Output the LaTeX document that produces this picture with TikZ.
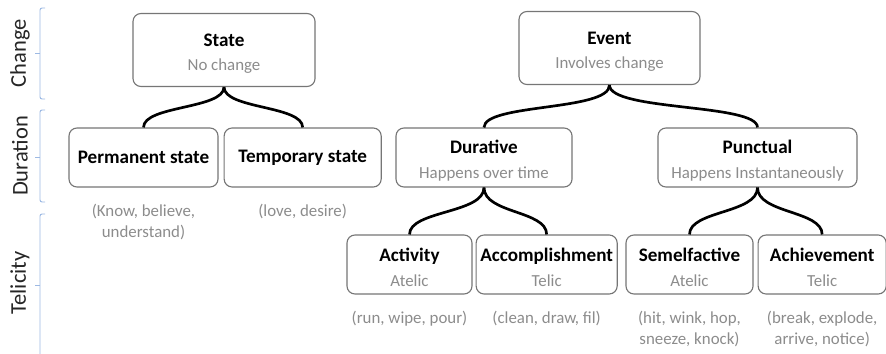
\documentclass[tikz,border=0pt]{standalone}
\usepackage{fontspec}
\setmainfont{Carlito}
\usetikzlibrary{positioning}
\definecolor{boxline}{HTML}{767676}
\definecolor{subgray}{HTML}{8C8C8C}
\definecolor{axisblue}{HTML}{9DB9E3}
\newcommand{\cattext}[2]{\rule{0pt}{14pt}\textbf{#1}\\[1.5pt]{\fontsize{12}{14}\selectfont\color{subgray}#2}}

\begin{document}
\begin{tikzpicture}[x=0.025cm,y=-0.025cm,
  cat/.style={rounded corners=2mm,draw=boxline,line width=.8pt,fill=white,
    align=center,inner sep=1pt,minimum height=14.75mm,font=\fontsize{13.6}{16}\selectfont},
  topcat/.style={cat,minimum height=18.25mm},
  note/.style={inner sep=0pt,align=center,text=subgray,font=\fontsize{12}{15}\selectfont},
  axislabel/.style={rotate=90,inner sep=0pt,text=black!85,font=\fontsize{16}{19}\selectfont},
  bracket/.style={draw=axisblue,line width=.7pt,rounded corners=1.5pt},
  fork/.style={draw=black,line width=1.9pt}
]
\useasboundingbox (0,0) rectangle (886,354);

% level labels on the left
\node[axislabel] (change) at (20,53) {Change};
\node[axislabel] (duration) at (20,156) {Duration};
\node[axislabel] (telicity) at (20,283) {Telicity};
\draw[bracket] (45,8) -- (40,8) -- (40,99) -- (45,99);
\draw[bracket] (40,53) -- (35,53);
\draw[bracket] (45,110) -- (40,110) -- (40,202) -- (45,202);
\draw[bracket] (40,157) -- (35,157);
\draw[bracket] (45,214) -- (40,214) -- (40,358);
\draw[bracket] (40,285) -- (35,285);

% change
\node[topcat,minimum width=45.5mm] (state) at (224,50) {\cattext{State}{No change}};
\node[topcat,minimum width=45.25mm] (event) at (609.5,48) {\cattext{Event}{Involves change}};

% duration
\node[cat,minimum width=37.25mm] (perm) at (143.5,157.5) {\textbf{Permanent state}};
\node[cat,minimum width=39.25mm,right=1.25mm of perm] (temp) {\textbf{Temporary state}};
\node[cat,minimum width=44mm] (dur) at (484,157.5) {\cattext{Durative}{Happens over time}};
\node[cat,minimum width=49.75mm] (punct) at (757.5,157.5) {\cattext{Punctual}{Happens Instantaneously}};

% telicity
\node[cat,minimum width=31.25mm] (act) at (409.5,264.5) {\cattext{Activity}{Atelic}};
\node[cat,minimum width=35.25mm,right=.75mm of act] (accomp) {\cattext{Accomplishment}{Telic}};
\node[cat,minimum width=31.75mm] (semel) at (689.5,264.5) {\cattext{Semelfactive}{Atelic}};
\node[cat,minimum width=32mm,right=1mm of semel] (achieve) {\cattext{Achievement}{Telic}};

% examples
\node[note,below=4mm of perm] (permex) {(Know, believe,\\understand)};
\node[note,below=4mm of temp] (tempex) {(love, desire)};
\node[note,below=4mm of act] (actex) {(run, wipe, pour)};
\node[note,below=4mm of accomp] (accompex) {(clean, draw, fil)};
\node[note,below=4mm of semel] (semelex) {(hit, wink, hop,\\sneeze, knock)};
\node[note,below=4mm of achieve] (achieveex) {(break, explode,\\arrive, notice)};

% braces from parent to children
\foreach \kid in {perm,temp}
  \draw[fork] (state.south) .. controls +(0,22) and +(0,-22) .. (\kid.north);
\foreach \kid in {dur,punct}
  \draw[fork] (event.south) .. controls +(0,26) and +(0,-24) .. (\kid.north);
\foreach \kid in {act,accomp}
  \draw[fork] (dur.south) .. controls +(0,26) and +(0,-24) .. (\kid.north);
\foreach \kid in {semel,achieve}
  \draw[fork] (punct.south) .. controls +(0,26) and +(0,-24) .. (\kid.north);
\end{tikzpicture}
\end{document}
